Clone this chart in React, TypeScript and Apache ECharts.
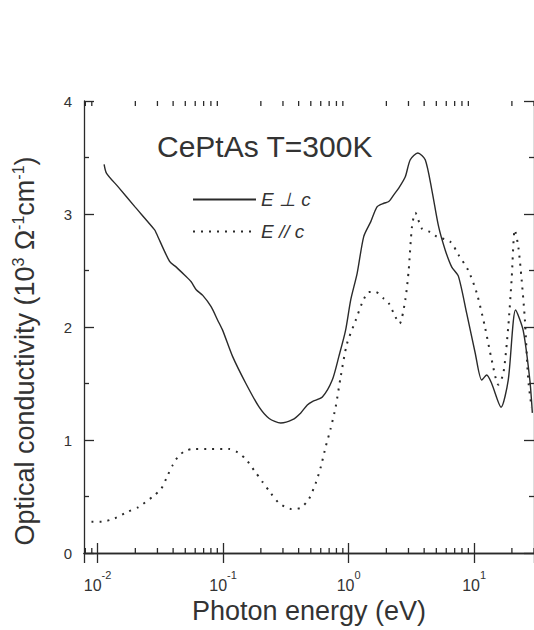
import React, { useEffect, useRef } from "react";
import * as echarts from "echarts";

const FONT = "'Liberation Sans', Arial, sans-serif";
const INK = "#2a2a2a";

// Photon energy (eV) and optical conductivity (10^3 Ohm^-1 cm^-1), E perpendicular to c
const perpE = [0.01128, 0.0118, 0.0146, 0.0198, 0.0285, 0.0294, 0.0375, 0.0424, 0.0493, 0.0557, 0.0611, 0.0689, 0.0803, 0.0906, 0.0993, 0.119, 0.152, 0.194, 0.233, 0.288, 0.357, 0.416, 0.469, 0.514, 0.618, 0.741, 0.837, 0.946, 1.04, 1.17, 1.32, 1.5, 1.69, 1.91, 2.09, 2.29, 2.51, 2.83, 3.1, 3.56, 4.08, 4.61, 5.21, 5.89, 6.64, 7.49, 8.73, 10.2, 11.5, 12.6, 13.8, 16.4, 18.7, 21.4, 24.6, 27.8, 29.1];
const perpS = [3.44, 3.36, 3.24, 3.065, 2.86, 2.83, 2.58, 2.53, 2.46, 2.4, 2.33, 2.28, 2.18, 2.06, 1.97, 1.74, 1.5, 1.29, 1.19, 1.15, 1.18, 1.24, 1.31, 1.34, 1.38, 1.53, 1.74, 1.97, 2.24, 2.475, 2.8, 2.93, 3.065, 3.095, 3.11, 3.17, 3.23, 3.33, 3.48, 3.54, 3.48, 3.21, 2.89, 2.68, 2.53, 2.45, 2.12, 1.77, 1.53, 1.575, 1.5, 1.29, 1.53, 2.15, 1.97, 1.53, 1.24];

// E parallel to c
const parE = [0.00895, 0.01076, 0.0137, 0.0175, 0.021, 0.0276, 0.0322, 0.0363, 0.0398, 0.0436, 0.0493, 0.0574, 0.0803, 0.112, 0.131, 0.152, 0.177, 0.206, 0.24, 0.28, 0.347, 0.416, 0.484, 0.548, 0.6, 0.657, 0.719, 0.788, 0.865, 0.97, 1.14, 1.28, 1.45, 1.64, 1.91, 2.09, 2.36, 2.55, 2.83, 3.01, 3.2, 3.4, 3.84, 4.47, 5.05, 6.46, 7.5, 9.0, 10.5, 12.2, 13.8, 15.6, 17.1, 18.7, 19.9, 21.1, 22.5, 23.9, 25.4, 27.0, 28.7];
const parS = [0.277, 0.277, 0.307, 0.366, 0.404, 0.5, 0.57, 0.69, 0.78, 0.85, 0.9, 0.92, 0.92, 0.92, 0.89, 0.83, 0.73, 0.63, 0.53, 0.44, 0.39, 0.4, 0.48, 0.62, 0.76, 0.94, 1.1, 1.29, 1.56, 1.85, 2.06, 2.21, 2.31, 2.31, 2.25, 2.21, 2.09, 2.03, 2.24, 2.5, 2.89, 3.01, 2.87, 2.84, 2.8, 2.755, 2.64, 2.5, 2.3, 2.0, 1.71, 1.49, 1.59, 2.0, 2.42, 2.86, 2.71, 2.42, 2.06, 1.53, 1.29];

const X_MIN = 0.0078;
const X_MAX = 30;
const Y_MIN = 0;
const Y_MAX = 4;
const DECADES = [0.001, 0.01, 0.1, 1, 10];
const MINOR_MULTS = [2, 3, 4, 5, 6, 7, 8, 9];

const SERIES_NAMES = ["E \u22A5 c", "E // c"];
const TITLE = "CePtAs T=300K";

export default function App() {
  const ref = useRef<HTMLDivElement>(null);
  useEffect(() => {
    if (!ref.current) return;
    const chart = echarts.init(ref.current, undefined, { renderer: "svg" });
    const minorTicks: number[][] = [];
    DECADES.forEach((d) =>
      MINOR_MULTS.forEach((m) => {
        const v = d * m;
        if (v >= X_MIN && v <= X_MAX) minorTicks.push([v]);
      })
    );
    const supFmt = (v: number) => {
      const e = Math.round(Math.log10(v));
      return "{b|10}{s|" + e + "}";
    };
    const xAxisBase = {
      type: "log" as const,
      logBase: 10,
      min: X_MIN,
      max: X_MAX,
      splitNumber: 3,
      axisLine: { show: true, lineStyle: { color: INK, width: 1.3 } },
      axisTick: { show: true, inside: true, length: 10, lineStyle: { color: INK, width: 1.3 } },
      splitLine: { show: false },
      minorTick: { show: false },
      minorSplitLine: { show: false },
    };
    const yAxisBase = {
      type: "value" as const,
      min: Y_MIN,
      max: Y_MAX,
      interval: 1,
      axisLine: { show: true, lineStyle: { color: INK, width: 1.3 } },
      axisTick: { show: true, inside: true, length: 10, lineStyle: { color: INK, width: 1.3 } },
      minorTick: { show: true, splitNumber: 2, length: 5, lineStyle: { color: INK, width: 1.3 } },
      splitLine: { show: false },
      minorSplitLine: { show: false },
    };
    chart.setOption({
      animation: false,
      backgroundColor: "#ffffff",
      title: {
        text: TITLE,
        left: 157,
        top: 131,
        padding: 0,
        textStyle: { fontSize: 30, fontWeight: "normal", color: "#333", fontFamily: FONT },
      },
      legend: {
        orient: "vertical",
        left: 192,
        top: 190,
        padding: 0,
        itemWidth: 63,
        itemHeight: 20,
        itemGap: 13,
        itemStyle: { opacity: 0 },
        data: SERIES_NAMES,
        textStyle: { fontSize: 19, fontStyle: "italic", color: "#333", fontFamily: FONT },
      },
      grid: { left: 84, top: 101, width: 452, height: 452, containLabel: false },
      xAxis: [
        {
          ...xAxisBase,
          position: "bottom",
          name: "Photon energy (eV)",
          nameLocation: "middle",
          nameGap: 41,
          nameTextStyle: { fontSize: 27, color: "#333", fontFamily: FONT },
          axisLabel: {
            show: true,
            margin: 16,
            showMinLabel: false,
            showMaxLabel: false,
            color: "#333",
            fontFamily: FONT,
            formatter: supFmt,
            rich: {
              b: { fontSize: 16, fontFamily: FONT, color: "#333", lineHeight: 16, verticalAlign: "bottom" },
              s: { fontSize: 11, fontFamily: FONT, color: "#333", lineHeight: 24, verticalAlign: "top" },
            },
          },
        },
        {
          ...xAxisBase,
          position: "top",
          axisLabel: { show: false },
        },
      ],
      yAxis: [
        {
          ...yAxisBase,
          position: "left",
          name: "Optical conductivity (10{s|3} \u03A9{s|-1}cm{s|-1})",
          nameLocation: "middle",
          nameRotate: 90,
          nameGap: 44,
          nameTextStyle: {
            fontSize: 27,
            color: "#333",
            fontFamily: FONT,
            padding: [0, 48, 0, 0],
            rich: {
              s: { fontSize: 16, fontFamily: FONT, color: "#333", verticalAlign: "top", lineHeight: 30 },
            },
          },
          axisLabel: { show: true, margin: 12, fontSize: 15, color: "#333", fontFamily: FONT },
        },
        {
          ...yAxisBase,
          position: "right",
          axisLabel: { show: false },
        },
      ],
      series: [
        {
          name: SERIES_NAMES[0],
          type: "line",
          xAxisIndex: 0,
          yAxisIndex: 0,
          data: perpE.map((e, i) => [e, perpS[i]]),
          symbol: "none",
          smooth: 0.25,
          lineStyle: { color: INK, width: 1.4, type: "solid" },
          itemStyle: { color: INK },
        },
        {
          name: SERIES_NAMES[1],
          type: "line",
          xAxisIndex: 0,
          yAxisIndex: 0,
          data: parE.map((e, i) => [e, parS[i]]),
          symbol: "none",
          smooth: 0.25,
          lineStyle: { color: INK, width: 2, type: [2, 6] },
          itemStyle: { color: INK },
        },
        {
          type: "custom",
          xAxisIndex: 0,
          yAxisIndex: 0,
          silent: true,
          clip: false,
          data: minorTicks,
          encode: { x: 0 },
          renderItem: (params: any, api: any) => {
            const x = api.value(0);
            const pb = api.coord([x, Y_MIN]);
            const pt = api.coord([x, Y_MAX]);
            const st = { stroke: INK, lineWidth: 1.3 };
            return {
              type: "group",
              children: [
                { type: "line", shape: { x1: pb[0], y1: pb[1], x2: pb[0], y2: pb[1] - 5 }, style: st },
                { type: "line", shape: { x1: pt[0], y1: pt[1], x2: pt[0], y2: pt[1] + 5 }, style: st },
              ],
            };
          },
        },
      ],
    });
    return () => chart.dispose();
  }, []);
  return (
    <div
      ref={ref}
      style={{ position: "fixed", left: 0, top: 0, width: 534, height: 630, background: "#fff" }}
    />
  );
}
